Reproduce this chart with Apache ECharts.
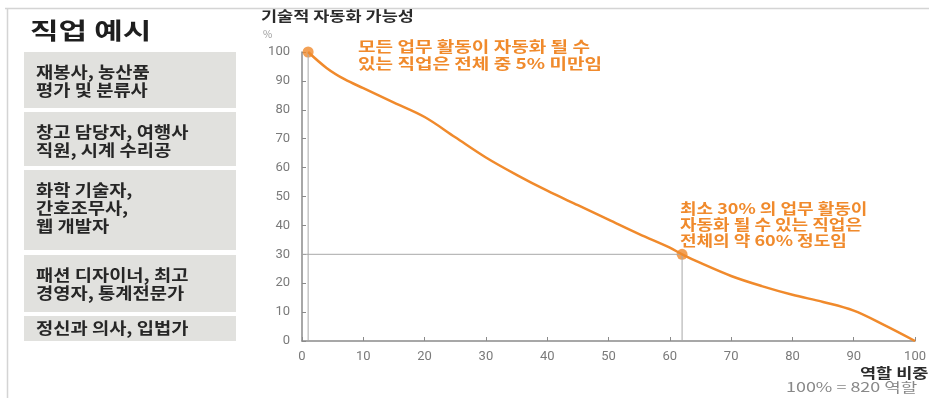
<!DOCTYPE html>
<html>
<head>
<meta charset="utf-8">
<script src="https://cdn.jsdelivr.net/npm/echarts@6/dist/echarts.min.js"></script>
<style>
  html, body { margin: 0; padding: 0; background: #fff; }
  #chart { width: 929px; height: 398px; }
</style>
</head>
<body>
<div id="chart"></div>
<script>
// Share of roles (x, %) vs. technical automation potential (y, %)
const roleShare = [1, 4, 7, 10, 15, 20, 25, 30, 35, 40, 45, 50, 55, 60, 62, 65, 70, 75, 80, 85, 90, 95, 100];
const automationPotential = [100, 94.5, 90.5, 87.5, 82.5, 77.5, 70.5, 63.5, 57.5, 52, 47, 42, 37, 32.3, 30, 27, 22.5, 19, 16, 13.5, 10.5, 5.5, 0];

// Highlighted points
const highlightPoints = [[1, 100], [62, 30]];

// Guide lines
const guideFull = [[1, 0], [1, 100]];
const guideThirty = [[0, 30], [62, 30], [62, 0]];

// Left panel: example occupations
const jobTitle = '직업 예시';
const jobExamples = [
  ['재봉사, 농산품', '평가 및 분류사'],
  ['창고 담당자, 여행사', '직원, 시계 수리공'],
  ['화학 기술자,', '간호조무사,', '웹 개발자'],
  ['패션 디자이너, 최고', '경영자, 통계전문가'],
  ['정신과 의사, 입법가']
];

const noteAll = ['모든 업무 활동이 자동화 될 수', '있는 직업은 전체 중 5% 미만임'];
const noteThirty = ['최소 30% 의 업무 활동이', '자동화 될 수 있는 직업은', '전체의 약 60% 정도임'];

const ORANGE = '#f08a2c';
const KR = '"Noto Sans CJK KR", "Noto Sans", sans-serif';

const chart = echarts.init(document.getElementById('chart'), null, { renderer: 'canvas' });

const curveData = roleShare.map((x, i) => [x, automationPotential[i]]);

// Text helper: positioned at its top-left corner, optionally stretched horizontally
function label(x, y, text, font, fill, sx, lineHeight) {
  return {
    type: 'text', x: x, y: y, scaleX: sx || 1,
    style: { text: text, font: font, fill: fill, verticalAlign: 'top', align: 'left', lineHeight: lineHeight }
  };
}

// Box layout for the left panel
const boxes = [
  { y: 52, h: 56 },
  { y: 112, h: 54 },
  { y: 170, h: 80 },
  { y: 255, h: 57 },
  { y: 316, h: 25 }
];

const graphics = [
  // frame lines
  { type: 'line', shape: { x1: 5, y1: 8.5, x2: 929, y2: 8.5 }, style: { stroke: '#d4d4d4', lineWidth: 1.5 } },
  { type: 'line', shape: { x1: 7.5, y1: 8, x2: 7.5, y2: 398 }, style: { stroke: '#d4d4d4', lineWidth: 1.5 } },
  label(30, 19, jobTitle, 'bold 23px ' + KR, '#1e1e1e', 1.35),
  label(261, 9, '기술적 자동화 가능성', 'bold 14px ' + KR, '#2b2b2b', 1.25),
  label(263, 29, '%', '10px ' + KR, '#999', 1),
  label(860, 366, '역할 비중', 'bold 14px ' + KR, '#2b2b2b', 1.25),
  label(786, 381, '100% = 820 역할', '13px ' + KR, '#888', 1.38),
  label(358, 38, noteAll.join('\n'), 'bold 15px ' + KR, ORANGE, 1.27, 17),
  label(680, 200, noteThirty.join('\n'), 'bold 15px ' + KR, ORANGE, 1.2, 16)
];

boxes.forEach((b, i) => {
  graphics.push({ type: 'rect', shape: { x: 24, y: b.y, width: 212, height: b.h }, style: { fill: '#e1e1de' } });
  const lines = jobExamples[i];
  graphics.push(label(36, i === 4 ? b.y + 3 : b.y + 11, lines.join('\n'), 'bold 16px ' + KR, '#262626', 1.17, 18));
});

chart.setOption({
  animation: false,
  grid: { left: 302, right: 12, top: 52, bottom: 57 },
  xAxis: {
    type: 'value', min: 0, max: 100, interval: 10,
    axisLine: { lineStyle: { color: '#8a8a8a', width: 1.5 } },
    axisTick: { show: true, inside: true, length: 4, lineStyle: { color: '#8a8a8a' } },
    axisLabel: { color: '#7a7a7a', fontSize: 13, margin: 9, fontFamily: 'Roboto, sans-serif', showMaxLabel: true },
    splitLine: { show: false }
  },
  yAxis: {
    type: 'value', min: 0, max: 100, interval: 10,
    axisLine: { show: true, lineStyle: { color: '#8a8a8a', width: 1.5 } },
    axisTick: { show: true, inside: true, length: 4, lineStyle: { color: '#8a8a8a' } },
    axisLabel: { color: '#7a7a7a', fontSize: 13, margin: 12, fontFamily: 'Roboto, sans-serif' },
    splitLine: { show: false }
  },
  graphic: graphics,
  series: [
    {
      type: 'line', data: guideFull, symbol: 'none', silent: true,
      lineStyle: { color: '#a8a8a8', width: 1 }
    },
    {
      type: 'line', data: guideThirty, symbol: 'none', silent: true,
      lineStyle: { color: '#a8a8a8', width: 1 }
    },
    {
      type: 'line', data: curveData, symbol: 'none', smooth: 0.35,
      lineStyle: { color: ORANGE, width: 2.5 }
    },
    {
      type: 'scatter', data: highlightPoints, symbolSize: 11,
      itemStyle: { color: ORANGE }
    }
  ]
});
</script>
</body>
</html>
